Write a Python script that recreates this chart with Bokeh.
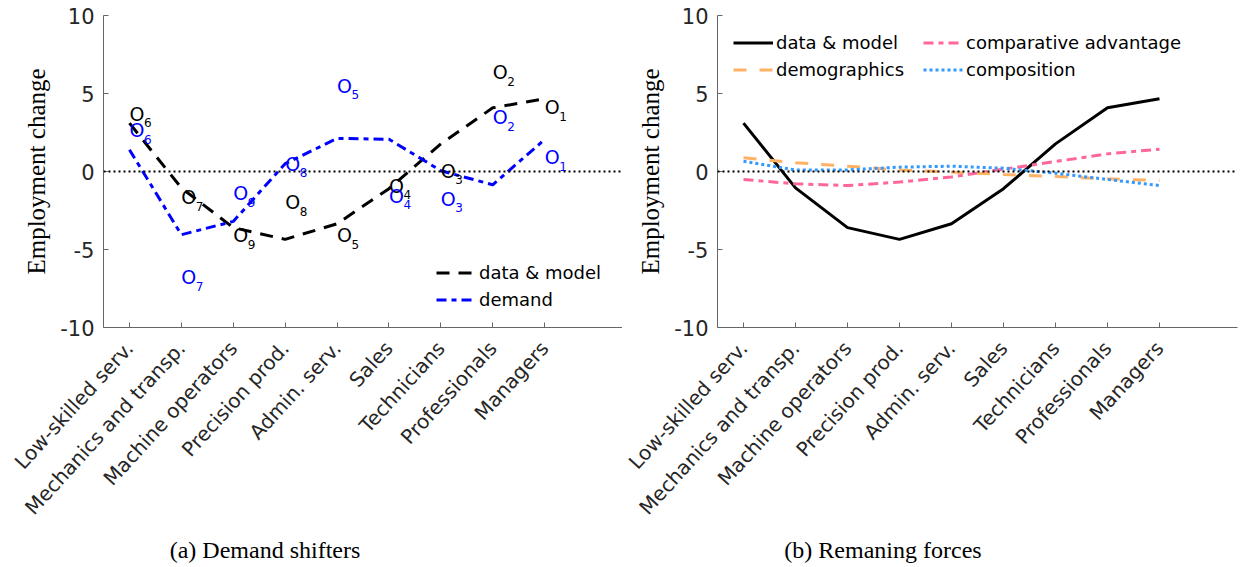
import math
from bokeh.plotting import figure
from bokeh.layouts import row, column
from bokeh.models import FixedTicker, Span, Legend, LegendItem, Range1d, Div
from bokeh.core.properties import value
from bokeh.embed import file_html
from bokeh.resources import INLINE

occupations = ["Low-skilled serv.", "Mechanics and transp.", "Machine operators",
               "Precision prod.", "Admin. serv.", "Sales", "Technicians",
               "Professionals", "Managers"]
xpos = [1, 2, 3, 4, 5, 6, 7, 8, 9]

data_model = [3.1, -1.05, -3.6, -4.35, -3.35, -1.1, 1.77, 4.08, 4.66]
demand = [1.4, -4.05, -3.2, 0.5, 2.12, 2.07, 0.05, -0.85, 2.05]

occ_ids = ["6", "7", "9", "8", "5", "4", "3", "2", "1"]
obs_data = [3.7, -1.65, -4.1, -1.97, -4.1, -0.9, 0.06, 6.37, 4.12]
obs_demand = [2.63, -6.77, -1.39, 0.49, 5.51, -1.54, -1.75, 3.48, 0.92]

comp_adv = [-0.51, -0.79, -0.9, -0.68, -0.35, 0.15, 0.64, 1.13, 1.43]
demographics = [0.88, 0.56, 0.34, 0.1, -0.04, -0.19, -0.32, -0.47, -0.58]
composition = [0.66, 0.1, 0.1, 0.28, 0.34, 0.21, -0.11, -0.51, -0.9]

yticks = [-10, -5, 0, 5, 10]
ytick_labels = ["-10", "-5", "0", "5", "10"]

captions = ["(a) Demand shifters", "(b) Remaning forces"]

SANS = "DejaVu Sans"
SERIF = "Liberation Serif"
TXT = "#262626"
FIG_H = 527


def base_fig(width, border_left, frame_w, border_right):
    p = figure(width=width, height=FIG_H, output_backend="svg", toolbar_location=None,
               x_range=Range1d(0.5, 10.5), y_range=Range1d(-10, 10),
               min_border_left=border_left, min_border_right=border_right,
               min_border_top=15, min_border_bottom=FIG_H - 15 - 312)
    p.frame_width = frame_w
    p.frame_height = 312
    p.outline_line_color = None
    p.xgrid.visible = False
    p.ygrid.visible = False
    p.background_fill_color = "white"
    p.border_fill_color = "white"

    xa = p.xaxis[0]
    xa.ticker = FixedTicker(ticks=xpos)
    xa.major_label_overrides = {x: n for x, n in zip(xpos, occupations)}
    xa.major_label_orientation = 0.83
    xa.major_label_text_font = SANS
    xa.major_label_text_font_size = "20px"
    xa.major_label_text_color = TXT
    xa.major_label_standoff = 17
    xa.major_tick_in = 5
    xa.major_tick_out = 0
    xa.minor_tick_line_color = None
    xa.axis_line_color = "#666666"
    xa.major_tick_line_color = "#666666"

    ya = p.yaxis[0]
    ya.ticker = FixedTicker(ticks=yticks)
    ya.major_label_overrides = {t: s for t, s in zip(yticks, ytick_labels)}
    ya.major_label_text_font = SANS
    ya.major_label_text_font_size = "21px"
    ya.major_label_text_color = TXT
    ya.major_label_standoff = 9
    ya.major_tick_in = 5
    ya.major_tick_out = 0
    ya.minor_tick_line_color = None
    ya.axis_line_color = "#666666"
    ya.major_tick_line_color = "#666666"
    ya.axis_label = "Employment change"
    ya.axis_label_text_font = SERIF
    ya.axis_label_text_font_size = "25px"
    ya.axis_label_text_font_style = "normal"
    ya.axis_label_text_color = "black"
    ya.axis_label_standoff = 7

    p.add_layout(Span(location=0, dimension="width", line_color="black",
                      line_width=2, line_dash="2 3"))
    return p


def style_legend(lg, loc):
    lg.location = loc
    lg.padding = 0
    lg.margin = 0
    lg.spacing = 6
    lg.border_line_alpha = 0
    lg.background_fill_alpha = 0
    lg.glyph_width = 40
    lg.glyph_height = 21
    lg.label_height = 21
    lg.label_standoff = 3
    lg.label_text_font = SANS
    lg.label_text_font_size = "18px"
    lg.label_text_color = "black"


def caption_div(width, inner_width, text):
    html = ('<div style="width:%dpx;text-align:center;font-family:\'Liberation Serif\';'
            'font-size:24px;color:black;padding-top:6px;line-height:28px;">%s</div>'
            % (inner_width, text))
    return Div(text=html, width=width, height=567 - FIG_H, margin=0)


# ---- Left panel ----
p1 = base_fig(622, 103, 519, 0)
r_dm = p1.line(xpos, data_model, line_color="black", line_width=3, line_dash="13 9")
r_de = p1.line(xpos, demand, line_color="#0000FF", line_width=3, line_dash="10 5 5 5")

for vals, col in ((obs_data, "black"), (obs_demand, "#0000FF")):
    p1.text(xpos, vals, text=["O"] * len(xpos), text_align="left", text_baseline="middle",
            text_font=value(SANS), text_font_size="19px", text_color=col)
    p1.text(xpos, vals, text=occ_ids, text_align="left", text_baseline="middle",
            x_offset=14.5, y_offset=9,
            text_font=value(SANS), text_font_size="12px", text_color=col)

lg1 = Legend(items=[LegendItem(label="data & model", renderers=[r_dm]),
                    LegendItem(label="demand", renderers=[r_de])])
style_legend(lg1, (333, 17))
p1.add_layout(lg1)

# ---- Right panel ----
p2 = base_fig(618, 95, 520, 3)
r_b = p2.line(xpos, data_model, line_color="black", line_width=3)
r_ca = p2.line(xpos, comp_adv, line_color="#FF6699", line_width=3, line_dash="10 5 5 5")
r_dg = p2.line(xpos, demographics, line_color="#FFB266", line_width=3, line_dash="13 13")
r_co = p2.line(xpos, composition, line_color="#3399FF", line_width=3, line_dash="3 3")

lg2a = Legend(items=[LegendItem(label="data & model", renderers=[r_b]),
                     LegendItem(label="demographics", renderers=[r_dg])])
style_legend(lg2a, (16, 247))
lg2b = Legend(items=[LegendItem(label="comparative advantage", renderers=[r_ca]),
                     LegendItem(label="composition", renderers=[r_co])])
style_legend(lg2b, (206, 247))
p2.add_layout(lg2a)
p2.add_layout(lg2b)

d1 = caption_div(622, 530, captions[0])
d2 = caption_div(618, 522, captions[1])

layout = column(row(p1, p2, spacing=0), row(d1, d2, spacing=0), spacing=0)
open("out.html", "w").write(file_html(layout, INLINE))
